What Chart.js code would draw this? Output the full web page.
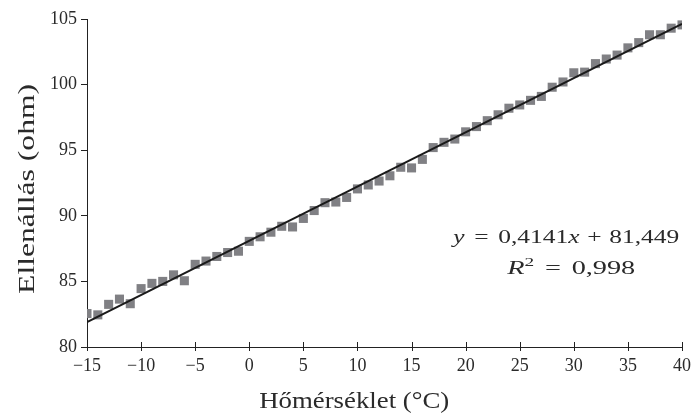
<!DOCTYPE html>
<html>
<head>
<meta charset="utf-8">
<script src="https://cdn.jsdelivr.net/npm/chart.js@4.4.1/dist/chart.umd.min.js"></script>
<style>
  html, body { margin: 0; padding: 0; background: #fff; }
  #wrap { width: 691px; height: 419px; position: relative; }
</style>
</head>
<body>
<div id="wrap"><canvas id="chart"></canvas></div>
<script>
// Mért adatok: hőmérséklet (°C) és ellenállás (ohm)
const homerseklet = [
  -15, -14, -13, -12, -11, -10, -9, -8, -7, -6, -5, -4, -3, -2, -1, 0,
  1, 2, 3, 4, 5, 6, 7, 8, 9, 10, 11, 12, 13, 14, 15, 16, 17, 18, 19, 20,
  21, 22, 23, 24, 25, 26, 27, 28, 29, 30, 31, 32, 33, 34, 35, 36, 37, 38, 39, 40
];
const ellenallas = [
  82.55, 82.45, 83.25, 83.65, 83.3, 84.45, 84.85, 85.0, 85.5, 85.05, 86.3, 86.55, 86.9, 87.2, 87.3, 88.05,
  88.4, 88.75, 89.2, 89.15, 89.8, 90.4, 91.0, 91.05, 91.4, 92.05, 92.35, 92.65, 93.05, 93.7, 93.65, 94.3, 95.2, 95.6, 95.85, 96.4,
  96.8, 97.25, 97.7, 98.2, 98.45, 98.8, 99.1, 99.8, 100.2, 100.9, 100.95, 101.6, 101.95, 102.25, 102.8, 103.2, 103.8, 103.8, 104.3, 104.55
];
const xTicks = [-15, -10, -5, 0, 5, 10, 15, 20, 25, 30, 35, 40];
const yTicks = [80, 85, 90, 95, 100, 105];

const xTitle = 'Hőmérséklet (°C)';
const yTitle = 'Ellenállás (ohm)';
// egyenlet felirat: [szöveg, stílus] ; 'gap' = üres köz em-ben
const eqLine1 = [['y', 'i'], [0.38, 'gap'], ['=', 'n'], [0.38, 'gap'], ['0,4141', 'n'], ['x', 'i'],
                 [0.3, 'gap'], ['+', 'n'], [0.3, 'gap'], ['81,449', 'n']];
const eqLine2 = [['R', 'i'], ['2', 'sup'], [0.38, 'gap'], ['=', 'n'], [0.38, 'gap'], ['0,998', 'n']];

// lineáris illesztés (legkisebb négyzetek)
function linearFit(xs, ys) {
  const n = xs.length;
  let sx = 0, sy = 0, sxx = 0, sxy = 0;
  for (let i = 0; i < n; i++) {
    sx += xs[i]; sy += ys[i]; sxx += xs[i] * xs[i]; sxy += xs[i] * ys[i];
  }
  const m = (n * sxy - sx * sy) / (n * sxx - sx * sx);
  const b = (sy - m * sx) / n;
  return { m, b };
}

const fit = linearFit(homerseklet, ellenallas);
const xMin = homerseklet[0], xMax = homerseklet[homerseklet.length - 1];
const trend = [
  { x: xMin, y: fit.m * xMin + fit.b },
  { x: xMax, y: fit.m * xMax + fit.b }
];
const points = homerseklet.map((t, i) => ({ x: t, y: ellenallas[i] }));

const FONT = "'Liberation Serif', 'DejaVu Serif', serif";
const INK = '#222222';
const TEXT = '#2a2a2a';

function fmt(v) {
  return v < 0 ? '\u2212' + Math.abs(v) : String(v);
}

function partFont(style, size) {
  if (style === 'i') return 'italic ' + size + 'px ' + FONT;
  if (style === 'sup') return Math.round(size * 0.7) + 'px ' + FONT;
  return size + 'px ' + FONT;
}

function partsWidth(ctx, parts, size) {
  return parts.map(p => {
    if (p[1] === 'gap') return p[0] * size;
    ctx.font = partFont(p[1], size);
    return ctx.measureText(p[0]).width;
  });
}

// szöveg rajzolása középre, vízszintesen a célszélességre nyújtva
function drawStretched(ctx, parts, cx, baseline, size, targetW) {
  const widths = partsWidth(ctx, parts, size);
  const total = widths.reduce((a, b) => a + b, 0);
  const sx = targetW ? targetW / total : 1;
  ctx.save();
  ctx.translate(cx, baseline);
  ctx.scale(sx, 1);
  let x = -total / 2;
  parts.forEach((p, i) => {
    if (p[1] !== 'gap') {
      ctx.font = partFont(p[1], size);
      const y = p[1] === 'sup' ? -size * 0.42 : 0;
      ctx.fillText(p[0], x, y);
    }
    x += widths[i];
  });
  ctx.restore();
}

const xTickMarks = {
  id: 'xTickMarks',
  afterDraw(chart) {
    const ctx = chart.ctx;
    const xs = chart.scales.x;
    const bottom = chart.chartArea.bottom;
    ctx.save();
    ctx.strokeStyle = INK;
    ctx.lineWidth = 1;
    xTicks.forEach(v => {
      const px = Math.round(xs.getPixelForValue(v)) + 0.5;
      ctx.beginPath();
      ctx.moveTo(px, bottom - 5);
      ctx.lineTo(px, bottom + 4);
      ctx.stroke();
    });
    ctx.restore();
  }
};

const textLabels = {
  id: 'textLabels',
  afterDraw(chart) {
    const ctx = chart.ctx;
    const xs = chart.scales.x, ys = chart.scales.y;
    ctx.save();
    ctx.fillStyle = TEXT;
    ctx.textAlign = 'left';
    ctx.textBaseline = 'alphabetic';

    // tengelyfeliratok
    drawStretched(ctx, [[xTitle, 'n']], xs.getPixelForValue(9.7), chart.height - 11, 23, 190);
    ctx.save();
    ctx.translate(34, ys.getPixelForValue(92.05));
    ctx.rotate(-Math.PI / 2);
    drawStretched(ctx, [[yTitle, 'n']], 0, 0, 23, 210);
    ctx.restore();

    // egyenlet
    const cx = xs.getPixelForValue(29.3);
    const y1 = ys.getPixelForValue(87.93);
    drawStretched(ctx, eqLine1, cx, y1, 19, 226);
    drawStretched(ctx, eqLine2, cx + 5, y1 + 31, 19, 128);
    ctx.restore();
  }
};

new Chart(document.getElementById('chart'), {
  type: 'scatter',
  data: {
    datasets: [
      {
        type: 'line',
        data: trend,
        borderColor: '#1a1a1a',
        borderWidth: 2,
        pointRadius: 0,
        fill: false
      },
      {
        data: points,
        pointStyle: 'rect',
        pointRadius: 6.4,
        pointHoverRadius: 6.4,
        pointBorderWidth: 0,
        backgroundColor: '#808084',
        borderColor: '#808084'
      }
    ]
  },
  options: {
    responsive: true,
    maintainAspectRatio: false,
    animation: false,
    events: [],
    layout: { padding: { top: 19, right: 0, left: 0, bottom: 0 } },
    plugins: {
      legend: { display: false },
      tooltip: { enabled: false }
    },
    scales: {
      x: {
        type: 'linear',
        min: -15,
        max: 40,
        afterBuildTicks: s => { s.ticks = xTicks.map(v => ({ value: v })); },
        afterFit: s => { s.height = 72; s.paddingRight = 9; s.paddingLeft = 0; },
        grid: { drawOnChartArea: false, drawTicks: false },
        border: { color: INK, width: 1 },
        ticks: {
          callback: v => fmt(v),
          color: TEXT,
          font: { family: FONT, size: 18 },
          padding: 8,
          maxRotation: 0
        }
      },
      y: {
        min: 80,
        max: 105,
        afterBuildTicks: s => { s.ticks = yTicks.map(v => ({ value: v })); },
        afterFit: s => { s.width = 87; },
        grid: { drawOnChartArea: false, drawTicks: true, tickLength: 6, tickColor: INK },
        border: { color: INK, width: 1 },
        ticks: {
          callback: v => fmt(v),
          color: TEXT,
          font: { family: FONT, size: 18 },
          padding: 4
        }
      }
    }
  },
  plugins: [xTickMarks, textLabels]
});
</script>
</body>
</html>
